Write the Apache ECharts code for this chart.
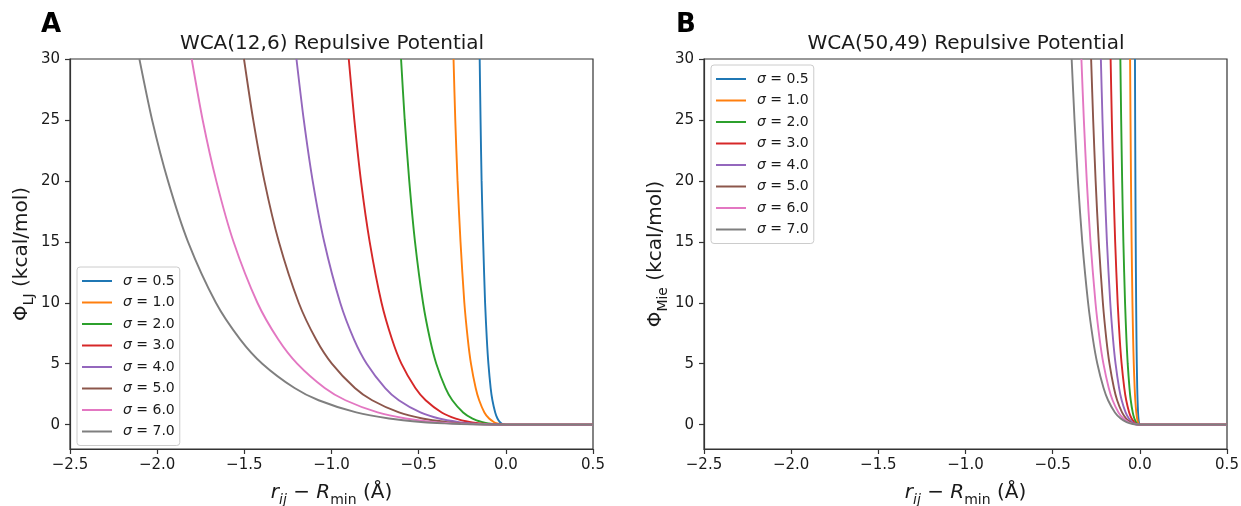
<!DOCTYPE html>
<html>
<head>
<meta charset="utf-8">
<script src="https://cdn.jsdelivr.net/npm/echarts@6/dist/echarts.min.js"></script>
<style>
html,body{margin:0;padding:0;background:#fff;}
#c{width:1241px;height:506px;}
</style>
</head>
<body>
<div id="c"></div>
<script>
// ---- data ----
const sigmaLabels = ['0.5', '1.0', '2.0', '3.0', '4.0', '5.0', '6.0', '7.0'];
const lineColors = ['#1f77b4', '#ff7f0e', '#2ca02c', '#d62728', '#9467bd', '#8c564b', '#e377c2', '#7f7f7f'];
const xTicks = [-2.5, -2.0, -1.5, -1.0, -0.5, 0.0, 0.5];
const xTickLabels = ['\u22122.5', '\u22122.0', '\u22121.5', '\u22121.0', '\u22120.5', '0.0', '0.5'];
const yTicks = [0, 5, 10, 15, 20, 25, 30];
const yTickLabels = ['0', '5', '10', '15', '20', '25', '30'];

// potential levels (kcal/mol) at which the curves were read
const levels = [30, 25, 20, 15, 10, 7, 5, 3, 2, 1, 0.5, 0.2, 0.1, 0.05, 0.01, 0];
const tailX = 0.5; // flat part continues to the right edge at 0

// Panel A: WCA(12,6) – x position of each curve at the levels above
const A_s05 = [-0.150, -0.145, -0.139, -0.130, -0.119, -0.109, -0.100, -0.087, -0.077, -0.061, -0.048, -0.034, -0.025, -0.019, -0.009, 0];
const A_s1  = [-0.300, -0.290, -0.277, -0.260, -0.238, -0.218, -0.200, -0.173, -0.153, -0.123, -0.096, -0.067, -0.050, -0.037, -0.018, 0];
const A_s2  = [-0.601, -0.580, -0.554, -0.521, -0.475, -0.435, -0.399, -0.346, -0.307, -0.245, -0.191, -0.134, -0.100, -0.074, -0.035, 0];
const A_s3  = [-0.901, -0.869, -0.831, -0.781, -0.713, -0.653, -0.599, -0.519, -0.460, -0.368, -0.287, -0.201, -0.151, -0.111, -0.053, 0];
const A_s4  = [-1.201, -1.159, -1.108, -1.042, -0.950, -0.871, -0.798, -0.692, -0.614, -0.490, -0.383, -0.268, -0.201, -0.148, -0.071, 0];
const A_s5  = [-1.502, -1.449, -1.385, -1.302, -1.188, -1.089, -0.998, -0.866, -0.767, -0.613, -0.479, -0.336, -0.251, -0.186, -0.089, 0];
const A_s6  = [-1.802, -1.739, -1.661, -1.562, -1.425, -1.306, -1.197, -1.039, -0.920, -0.735, -0.574, -0.403, -0.301, -0.223, -0.106, 0];
const A_s7  = [-2.102, -2.029, -1.938, -1.823, -1.663, -1.524, -1.397, -1.212, -1.074, -0.858, -0.670, -0.470, -0.351, -0.260, -0.124, 0];

// Panel B: WCA(50,49)
const B_s05 = [-0.0279, -0.0268, -0.0254, -0.0236, -0.0212, -0.0192, -0.0174, -0.0149, -0.0130, -0.0102, -0.0079, -0.0054, -0.0040, -0.0029, -0.0014, 0];
const B_s1  = [-0.0559, -0.0535, -0.0507, -0.0472, -0.0424, -0.0384, -0.0348, -0.0297, -0.0260, -0.0204, -0.0157, -0.0108, -0.0080, -0.0059, -0.0028, 0];
const B_s2  = [-0.1117, -0.1070, -0.1014, -0.0944, -0.0848, -0.0768, -0.0696, -0.0594, -0.0521, -0.0408, -0.0314, -0.0216, -0.0161, -0.0117, -0.0055, 0];
const B_s3  = [-0.1676, -0.1606, -0.1521, -0.1415, -0.1272, -0.1152, -0.1045, -0.0892, -0.0781, -0.0612, -0.0471, -0.0325, -0.0241, -0.0176, -0.0083, 0];
const B_s4  = [-0.2235, -0.2141, -0.2028, -0.1887, -0.1696, -0.1536, -0.1393, -0.1189, -0.1041, -0.0816, -0.0628, -0.0433, -0.0322, -0.0235, -0.0111, 0];
const B_s5  = [-0.2794, -0.2676, -0.2536, -0.2359, -0.2120, -0.1920, -0.1741, -0.1486, -0.1302, -0.1021, -0.0785, -0.0541, -0.0402, -0.0294, -0.0139, 0];
const B_s6  = [-0.3352, -0.3211, -0.3043, -0.2831, -0.2544, -0.2304, -0.2089, -0.1783, -0.1562, -0.1225, -0.0942, -0.0649, -0.0482, -0.0352, -0.0166, 0];
const B_s7  = [-0.3911, -0.3746, -0.3550, -0.3303, -0.2968, -0.2688, -0.2437, -0.2080, -0.1822, -0.1429, -0.1099, -0.0757, -0.0563, -0.0411, -0.0194, 0];

const curvesA = [A_s05, A_s1, A_s2, A_s3, A_s4, A_s5, A_s6, A_s7];
const curvesB = [B_s05, B_s1, B_s2, B_s3, B_s4, B_s5, B_s6, B_s7];

// ---- chart ----
const FONT = 'DejaVu Sans';
const TXT = '#1a1a1a';
const chart = echarts.init(document.getElementById('c'), null, {renderer: 'canvas'});

function toData(xs) {
  const d = xs.map((x, i) => [x, levels[i]]);
  d.push([tailX, 0]);
  return d;
}
const names = sigmaLabels.map(s => '\u03c3 = ' + s);

function xAxisCfg(gi) {
  return {
    type: 'value', gridIndex: gi, min: -2.5, max: 0.5, interval: 0.5,
    axisLine: {show: true, onZero: false, lineStyle: {color: '#333', width: 1.2}},
    axisTick: {show: true, length: 5, lineStyle: {color: '#333', width: 1.2}, customValues: xTicks},
    axisLabel: {
      customValues: xTicks, color: TXT, fontFamily: FONT, fontSize: 15, margin: 9,
      formatter: v => { const i = xTicks.findIndex(t => Math.abs(t - v) < 1e-9); return i >= 0 ? xTickLabels[i] : ''; }
    },
    splitLine: {show: false},
    name: '{i|r}{isub|ij}{n| \u2212 }{i|R}{sub|min}{n| (\u00c5)}',
    nameLocation: 'middle', nameGap: 30,
    nameTextStyle: {
      color: TXT, fontFamily: FONT, fontSize: 20,
      rich: {
        i: {fontFamily: FONT, fontSize: 20, fontStyle: 'italic', color: TXT, lineHeight: 28},
        n: {fontFamily: FONT, fontSize: 20, color: TXT, lineHeight: 28},
        isub: {fontFamily: FONT, fontSize: 14, fontStyle: 'italic', color: TXT, lineHeight: 15, verticalAlign: 'bottom'},
        sub: {fontFamily: FONT, fontSize: 14, color: TXT, lineHeight: 15, verticalAlign: 'bottom'}
      }
    }
  };
}
function yAxisCfg(gi, subText) {
  return {
    type: 'value', gridIndex: gi, min: -2, max: 30,
    axisLine: {show: true, onZero: false, lineStyle: {color: '#333', width: 1.2}},
    axisTick: {show: true, length: 5, lineStyle: {color: '#333', width: 1.2}, customValues: yTicks},
    axisLabel: {
      customValues: yTicks, color: TXT, fontFamily: FONT, fontSize: 15, margin: 10,
      formatter: v => { const i = yTicks.indexOf(v); return i >= 0 ? yTickLabels[i] : ''; }
    },
    splitLine: {show: false},
    name: '{n|\u03a6}{sub|' + subText + '}{n| (kcal/mol)}',
    nameLocation: 'middle', nameGap: 34, nameRotate: 90,
    nameTextStyle: {
      color: TXT, fontFamily: FONT, fontSize: 20,
      rich: {
        n: {fontFamily: FONT, fontSize: 20, color: TXT, lineHeight: 28},
        sub: {fontFamily: FONT, fontSize: 14, color: TXT, lineHeight: 15, verticalAlign: 'bottom'}
      }
    }
  };
}
function legendCfg(left, top) {
  return {
    data: names, orient: 'vertical', left: left, top: top,
    icon: 'rect', itemWidth: 30, itemHeight: 2, itemGap: 5.5,
    padding: [6, 5, 6, 5],
    backgroundColor: 'rgba(255,255,255,0.85)', borderColor: '#cccccc', borderWidth: 1, borderRadius: 3,
    selectedMode: false,
    formatter: name => '{s|\u03c3}{n|' + name.slice(1) + '}',
    textStyle: {
      fontFamily: FONT, fontSize: 14, color: TXT, lineHeight: 16, padding: [0, 0, 0, 6],
      rich: {
        s: {fontFamily: FONT, fontSize: 14, fontStyle: 'italic', color: TXT},
        n: {fontFamily: FONT, fontSize: 14, color: TXT}
      }
    }
  };
}

const series = [];
function addSeries(curves, axisIdx) {
  curves.forEach((xs, k) => series.push({
    name: names[k], type: 'line', xAxisIndex: axisIdx, yAxisIndex: axisIdx, data: toData(xs),
    showSymbol: false, smooth: 0.25, clip: true, color: lineColors[k],
    lineStyle: {width: 1.9, color: lineColors[k]}, itemStyle: {color: lineColors[k]}, z: 2 + k, animation: false
  }));
}
addSeries(curvesA, 0);
addSeries(curvesB, 1);

chart.setOption({
  backgroundColor: '#fff',
  animation: false,
  title: [
    {text: 'A', left: 41, top: 12, padding: 0, textStyle: {fontFamily: FONT, fontSize: 26, fontWeight: 'bold', color: '#000'}},
    {text: 'B', left: 676, top: 12, padding: 0, textStyle: {fontFamily: FONT, fontSize: 26, fontWeight: 'bold', color: '#000'}},
    {text: 'WCA(12,6) Repulsive Potential', left: 332, top: 34, padding: 0, textAlign: 'center',
     textStyle: {fontFamily: FONT, fontSize: 20, fontWeight: 'normal', color: TXT}},
    {text: 'WCA(50,49) Repulsive Potential', left: 966, top: 34, padding: 0, textAlign: 'center',
     textStyle: {fontFamily: FONT, fontSize: 20, fontWeight: 'normal', color: TXT}}
  ],
  grid: [
    {left: 70, top: 59, width: 523, height: 390, show: true, borderColor: '#333', borderWidth: 1.2, containLabel: false, outerBoundsMode: 'none'},
    {left: 704, top: 59, width: 523, height: 390, show: true, borderColor: '#333', borderWidth: 1.2, containLabel: false, outerBoundsMode: 'none'}
  ],
  xAxis: [xAxisCfg(0), xAxisCfg(1)],
  yAxis: [yAxisCfg(0, 'LJ'), yAxisCfg(1, 'Mie')],
  legend: [legendCfg(77, 267), legendCfg(711, 65)],
  tooltip: {show: false},
  series: series
});
</script>
</body>
</html>
